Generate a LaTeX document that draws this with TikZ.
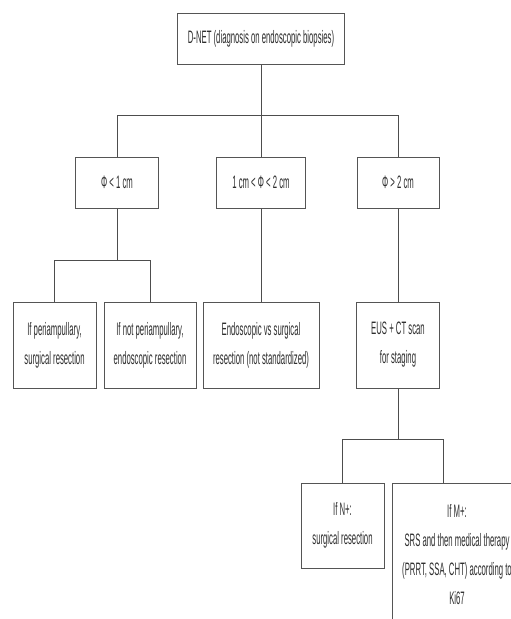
\documentclass[tikz,border=0pt]{standalone}
\usepackage{fontspec}
\setmainfont{Liberation Sans}[FakeStretch=0.43]
\usetikzlibrary{positioning}
\definecolor{boxline}{HTML}{555555}
\definecolor{linkline}{HTML}{4D4D4D}
\definecolor{labeltext}{HTML}{2E2E2E}

\begin{document}
\begin{tikzpicture}[x=1pt,y=-1pt,
  font=\fontsize{18}{29}\selectfont,
  card/.style={draw=boxline,line width=1pt,fill=white,text=labeltext,align=center,inner sep=0pt},
  link/.style={draw=linkline,line width=0.8pt}]
  \useasboundingbox (0,0) rectangle (511,619);
  \clip (0,0) rectangle (511,619);
  % diagnosis
  \node[card,minimum width=167,minimum height=51] (dnet) at (261,38.5) {D-NET (diagnosis on endoscopic biopsies)};
  % size classes
  \node[card,minimum width=83,minimum height=51] (small) at (117,182.5) {Φ < 1 cm};
  \node[card,minimum width=89,minimum height=51] (mid) at (261,182.5) {1 cm < Φ < 2 cm};
  \node[card,minimum width=82,minimum height=51] (large) at (398,182.5) {Φ > 2 cm};
  % management
  \node[card,minimum width=83,minimum height=86] (peri) at (54.5,345) {If periampullary,\\surgical resection};
  \node[card,minimum width=92,minimum height=86] (nonperi) at (150,345) {If not periampullary,\\endoscopic resection};
  \node[card,minimum width=116,minimum height=86] (endo) at (261,345) {Endoscopic vs surgical\\resection (not standardized)};
  \node[card,minimum width=83,minimum height=86] (eus) at (398,345) {EUS + CT scan\\for staging};
  % staging outcome
  \node[card,minimum width=83,minimum height=85] (nplus) at (342.5,525.5) {If N+:\\surgical resection};
  \node[card,minimum width=130,minimum height=143] (mplus) at (457,554.5) {If M+:\\SRS and then medical therapy\\(PRRT, SSA, CHT) according to\\Ki67};
  % connectors
  \coordinate (split1) at (261,115);
  \coordinate (split2) at (117,260);
  \coordinate (split3) at (398,439);
  \coordinate (mplusin) at (443,483);
  \draw[link] (dnet.south) -- (mid.north);
  \draw[link] (split1) -| (small.north);
  \draw[link] (split1) -| (large.north);
  \draw[link] (mid.south) -- (endo.north);
  \draw[link] (large.south) -- (eus.north);
  \draw[link] (small.south) -- (split2) -| (peri.north);
  \draw[link] (split2) -| (nonperi.north);
  \draw[link] (eus.south) -- (split3) -| (nplus.north);
  \draw[link] (split3) -| (mplusin);
\end{tikzpicture}
\end{document}
